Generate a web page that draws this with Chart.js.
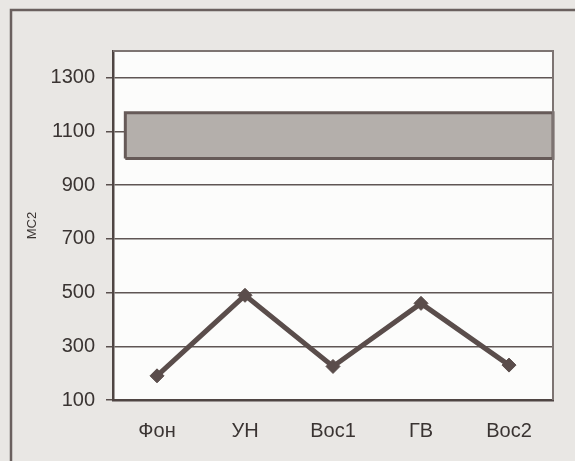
<!DOCTYPE html>
<html>
<head>
<meta charset="utf-8">
<script src="https://cdn.jsdelivr.net/npm/chart.js@4"></script>
<style>
  html, body { margin: 0; padding: 0; background: #e9e7e4; }
</style>
</head>
<body>
<canvas id="chart" width="575" height="461"></canvas>
<script>
const categories = ['Фон', 'УН', 'Вос1', 'ГВ', 'Вос2'];
const values = [190, 490, 225, 460, 230];
const yTicks = [100, 300, 500, 700, 900, 1100, 1300];
const yRange = [100, 1400];
const bandRange = [1000, 1170];
const bandSpan = [-0.36, 4.5];

const ink = '#5a4d4b';
const font = "'Liberation Sans', Arial, sans-serif";

const linePoints = values.map((v, i) => ({ x: i, y: v }));
const bandPoints = [
  { x: bandSpan[0], y: bandRange[0] },
  { x: bandSpan[0], y: bandRange[1] },
  { x: bandSpan[1], y: bandRange[1] },
  { x: bandSpan[1], y: bandRange[0] },
  { x: bandSpan[0], y: bandRange[0] }
];

const paper = {
  id: 'paper',
  beforeDraw(chart) {
    const { ctx, chartArea: a } = chart;
    ctx.save();
    ctx.fillStyle = '#e9e7e4';
    ctx.fillRect(0, 0, chart.width, chart.height);
    ctx.strokeStyle = '#6a605e';
    ctx.lineWidth = 2.5;
    ctx.strokeRect(11, 10, chart.width, chart.height);
    ctx.fillStyle = '#fcfcfb';
    ctx.fillRect(a.left, a.top, a.right - a.left, a.bottom - a.top);
    ctx.restore();
  },
  afterDatasetsDraw(chart) {
    const { ctx, chartArea: a } = chart;
    ctx.save();
    ctx.strokeStyle = '#7d7472';
    ctx.lineWidth = 2;
    ctx.beginPath();
    ctx.moveTo(a.left, a.top);
    ctx.lineTo(a.right, a.top);
    ctx.lineTo(a.right, a.bottom);
    ctx.stroke();
    ctx.restore();
  }
};

new Chart(document.getElementById('chart'), {
  type: 'scatter',
  data: {
    datasets: [
      {
        data: linePoints,
        showLine: true,
        borderColor: ink,
        borderWidth: 5,
        backgroundColor: ink,
        pointStyle: 'rectRot',
        pointRadius: 7,
        pointBorderWidth: 1,
        tension: 0
      },
      {
        data: bandPoints,
        showLine: true,
        fill: 'shape',
        borderColor: '#665a58',
        borderWidth: 3,
        backgroundColor: '#b4afab',
        pointRadius: 0,
        clip: false
      }
    ]
  },
  options: {
    responsive: false,
    animation: false,
    layout: { padding: { left: 0, top: 51, right: 22, bottom: 0 } },
    plugins: { legend: { display: false }, tooltip: { enabled: false } },
    scales: {
      x: {
        type: 'linear',
        min: -0.5,
        max: 4.5,
        afterBuildTicks: (s) => { s.ticks = categories.map((c, i) => ({ value: i })); },
        afterFit: (s) => { s.height = 61; },
        grid: { display: true, drawOnChartArea: false, drawTicks: false },
        border: { display: true, color: '#4f4543', width: 2.5 },
        ticks: {
          padding: 19,
          color: '#3a3432',
          font: { family: font, size: 20 },
          callback: (v) => categories[v]
        }
      },
      y: {
        min: yRange[0],
        max: yRange[1],
        afterBuildTicks: (s) => { s.ticks = yTicks.map(v => ({ value: v })); },
        afterFit: (s) => { s.width = 113; },
        grid: { color: '#5f5654', lineWidth: 1.5, tickLength: 7, tickColor: '#5a504e' },
        border: { display: true, color: '#4f4543', width: 2.5 },
        ticks: {
          padding: 11,
          color: '#3a3432',
          font: { family: font, size: 20 },
          callback: (v) => String(v)
        },
        title: {
          display: true,
          text: 'МС2',
          color: '#3a3432',
          padding: { top: 25, bottom: 0 },
          font: { family: font, size: 13 }
        }
      }
    }
  },
  plugins: [paper]
});
</script>
</body>
</html>
